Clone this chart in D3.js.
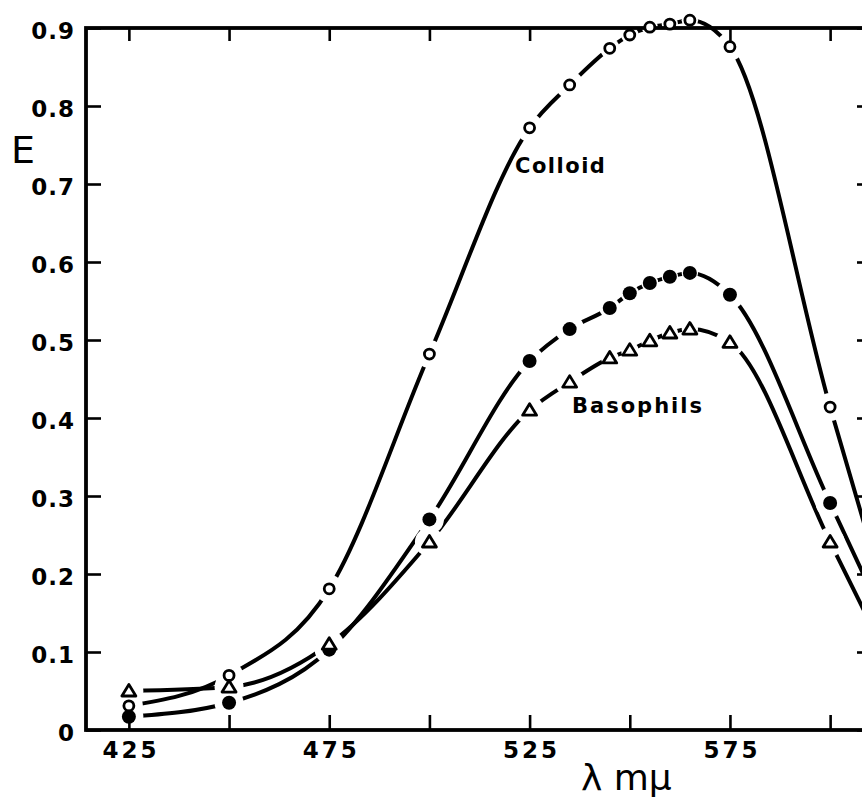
<!DOCTYPE html>
<html>
<head>
<meta charset="utf-8">
<script src="https://cdn.jsdelivr.net/npm/d3@7"></script>
<style>
  body { margin: 0; background: #fff; }
  svg { display: block; }
</style>
</head>
<body>
<svg id="chart"></svg>
<script>
// wavelength (m\u03bc) and extinction E
const wavelengths = [425, 450, 475, 500, 525, 535, 545, 550, 555, 560, 565, 575, 600, 615];
const colloid     = [0.031, 0.070, 0.181, 0.482, 0.772, 0.827, 0.874, 0.891, 0.901, 0.905, 0.910, 0.876, 0.414, 0.150];
const basoFilled  = [0.017, 0.035, 0.103, 0.270, 0.473, 0.514, 0.541, 0.560, 0.573, 0.581, 0.586, 0.558, 0.291, 0.126];
const basoOpen    = [0.050, 0.055, 0.110, 0.241, 0.410, 0.446, 0.477, 0.487, 0.499, 0.509, 0.514, 0.497, 0.241, 0.085];

const xTicks = [425, 450, 475, 500, 525, 550, 575, 600];
const xTickLabels = [425, 475, 525, 575];
const yTicks = [0, 0.1, 0.2, 0.3, 0.4, 0.5, 0.6, 0.7, 0.8, 0.9];

const width = 862, height = 797;
const frame = { left: 86, right: 871, top: 28, bottom: 730 };

const svg = d3.select('#chart').attr('width', width).attr('height', height);

const x = d3.scaleLinear().domain([414.3, 610.2]).range([frame.left, frame.right]);
const y = d3.scaleLinear().domain([0, 0.9]).range([frame.bottom, frame.top]);

const series = [
  { name: 'colloid', values: colloid, marker: 'open', halo: 14 },
  { name: 'filled', values: basoFilled, marker: 'filled', halo: 14.5 },
  { name: 'triangle', values: basoOpen, marker: 'triangle', halo: 14.5 }
];

const line = d3.line()
  .x(d => x(d[0]))
  .y(d => y(d[1]))
  .curve(d3.curveMonotoneX);

// Curves
const curves = svg.append('g');
series.forEach(s => {
  curves.append('path')
    .datum(wavelengths.map((w, i) => [w, s.values[i]]))
    .attr('d', line)
    .attr('fill', 'none')
    .attr('stroke', '#000')
    .attr('stroke-width', 4);
});

// White gaps around every marker, narrower where points crowd together
const halos = svg.append('g');
series.forEach(s => {
  const pts = wavelengths.map((w, i) => [w, s.values[i]]);
  const nearest = pts.map((p, i) => d3.min(
    [pts[i - 1], pts[i + 1]].filter(Boolean),
    q => Math.hypot(x(q[0]) - x(p[0]), y(q[1]) - y(p[1]))
  ));
  halos.selectAll(null)
    .data(pts)
    .join('circle')
    .attr('cx', d => x(d[0]))
    .attr('cy', d => y(d[1]))
    .attr('r', (d, i) => Math.min(s.halo, nearest[i] / 2 - 2))
    .attr('fill', '#fff');
});

// Axes (ticks point inward)
const tickFont = g => g.selectAll('text')
  .style('font-family', '"DejaVu Sans", sans-serif')
  .style('font-weight', 'bold')
  .style('font-size', '23px')
  .style('fill', '#000');

const styleTicks = g => {
  g.select('.domain').remove();
  g.selectAll('line').attr('stroke', '#000').attr('stroke-width', 2.6);
};

svg.append('g')
  .attr('transform', `translate(0,${frame.bottom})`)
  .call(d3.axisBottom(x).tickValues(xTicks).tickSize(-15).tickPadding(12)
    .tickFormat(d => xTickLabels.includes(d) ? d : ''))
  .call(styleTicks)
  .call(tickFont)
  .selectAll('text').style('letter-spacing', '3px').attr('dx', '1.5');

svg.append('g')
  .attr('transform', `translate(0,${frame.top})`)
  .call(d3.axisTop(x).tickValues(xTicks).tickSize(-13).tickFormat(''))
  .call(styleTicks);

svg.append('g')
  .attr('transform', `translate(${frame.left},0)`)
  .call(d3.axisLeft(y).tickValues(yTicks).tickSize(-15).tickPadding(11)
    .tickFormat(d => d === 0 ? '0' : d.toFixed(1)))
  .call(styleTicks)
  .call(tickFont)
  .selectAll('text').style('letter-spacing', '1px').attr('dy', '0.45em');

svg.append('g')
  .attr('transform', `translate(${frame.right},0)`)
  .call(d3.axisRight(y).tickValues(yTicks).tickSize(-14).tickFormat(''))
  .call(styleTicks);

// Frame
svg.append('rect')
  .attr('x', frame.left)
  .attr('y', frame.top)
  .attr('width', frame.right - frame.left)
  .attr('height', frame.bottom - frame.top)
  .attr('fill', 'none')
  .attr('stroke', '#000')
  .attr('stroke-width', 3.8);

// Markers
const markers = svg.append('g');
series.forEach(s => {
  const pts = wavelengths.map((w, i) => [w, s.values[i]]);
  if (s.marker === 'triangle') {
    markers.selectAll(null)
      .data(pts)
      .join('path')
      .attr('d', 'M0,-6.5L7,5L-7,5Z')
      .attr('transform', d => `translate(${x(d[0])},${y(d[1])})`)
      .attr('fill', '#fff')
      .attr('stroke', '#000')
      .attr('stroke-width', 2.8)
      .attr('stroke-linejoin', 'round');
  } else {
    markers.selectAll(null)
      .data(pts)
      .join('circle')
      .attr('cx', d => x(d[0]))
      .attr('cy', d => y(d[1]))
      .attr('r', s.marker === 'filled' ? 7 : 5)
      .attr('fill', s.marker === 'filled' ? '#000' : '#fff')
      .attr('stroke', '#000')
      .attr('stroke-width', s.marker === 'filled' ? 0 : 2.8);
  }
});

// Labels
svg.append('text')
  .attr('x', 515).attr('y', 173)
  .style('font-family', '"DejaVu Sans", sans-serif')
  .style('font-weight', 'bold').style('font-size', '21px')
  .style('letter-spacing', '1.5px')
  .text('Colloid');

svg.append('text')
  .attr('x', 572).attr('y', 413)
  .style('font-family', '"DejaVu Sans", sans-serif')
  .style('font-weight', 'bold').style('font-size', '21px')
  .style('letter-spacing', '2px')
  .text('Basophils');

svg.append('text')
  .attr('x', 11).attr('y', 163)
  .style('font-family', '"DejaVu Sans", sans-serif')
  .style('font-size', '38px')
  .text('E');

svg.append('text')
  .attr('x', 581).attr('y', 790)
  .style('font-family', '"DejaVu Sans", sans-serif')
  .style('font-size', '36px')
  .text('\u03bb m\u03bc');
</script>
</body>
</html>
